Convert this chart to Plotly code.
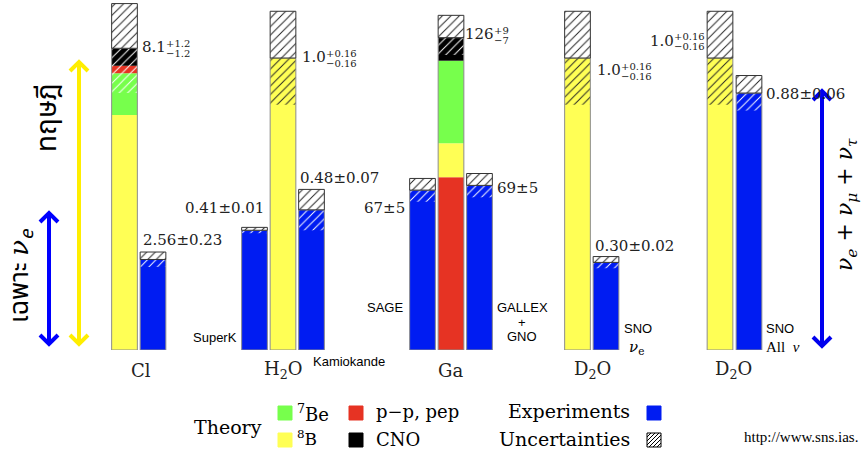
import plotly.graph_objects as go

# ---------------- data ----------------
# Chlorine (SNU); stacking bottom -> top: 8B, 7Be, p-p/pep, CNO
cl_theory = [6.31, 1.12, 0.20, 0.47]
cl_theory_err = [1.2, 1.2]          # (+, -)
cl_exp = [2.43]                      # Homestake (drawn height)
cl_exp_err = [0.20]

# Gallium (SNU); stacking bottom -> top: p-p/pep, 8B, 7Be, CNO
ga_theory = [69.7, 13.7, 33.3, 9.3]
ga_theory_err = [9, 7]
ga_exp = [64.5, 66.4]                # SAGE, GALLEX+GNO (drawn heights)
ga_exp_err = [4.7, 4.8]

# Water Cherenkov (ratio to SSM)
h2o_theory = [1.0]
h2o_theory_err = [0.16, 0.16]
h2o_exp = [0.41, 0.48]               # SuperK, Kamiokande
h2o_exp_err = [0.01, 0.07]

# Heavy water (ratio to SSM)
d2o_theory = [1.0]
d2o_theory_err = [0.16, 0.16]
d2o_exp = [0.30, 0.88]               # SNO nu_e, SNO all nu
d2o_exp_err = [0.02, 0.06]

group_labels = ["Cl", "H<sub>2</sub>O", "Ga", "D<sub>2</sub>O", "D<sub>2</sub>O"]
exp_names = ["SuperK", "Kamiokande", "SAGE", "SNO"]

# ---------------- styling / layout ----------------
W, H = 863, 450
PH = 350                      # plot-area height in px
BW = 25.7
C_8B, C_7BE, C_PP, C_CNO = "#ffff55", "#77ff4c", "#e63323", "#000000"
C_EXP = "#001cf2"
OUTLINE = "#8c8c8c"

fig = go.Figure()


def add_column(xc, values, colors, axis, err_up, err_dn, dn_color="white"):
    base = 0.0
    for v, c in zip(values, colors):
        fig.add_bar(x=[xc], y=[v], base=[base], width=BW, yaxis=axis,
                    marker=dict(color=c, line=dict(width=0)), hoverinfo="skip")
        base += v
    total = base
    # lower uncertainty hatch (over colour)
    fig.add_bar(x=[xc], y=[err_dn], base=[total - err_dn], width=BW, yaxis=axis,
                marker=dict(color="rgba(0,0,0,0)", line=dict(width=0),
                            pattern=dict(shape="/", fgcolor=dn_color, bgcolor="rgba(0,0,0,0)",
                                         size=6, solidity=0.16, fillmode="replace")),
                hoverinfo="skip")
    # outline of column
    fig.add_bar(x=[xc], y=[total], base=[0], width=BW, yaxis=axis,
                marker=dict(color="rgba(0,0,0,0)", line=dict(width=1, color=OUTLINE)),
                hoverinfo="skip")
    # upper uncertainty box
    fig.add_bar(x=[xc], y=[err_up], base=[total], width=BW, yaxis=axis,
                marker=dict(color="white", line=dict(width=1, color="#333333"),
                            pattern=dict(shape="/", fgcolor="#222222", bgcolor="white",
                                         size=6, solidity=0.16, fillmode="replace")),
                hoverinfo="skip")


# x centres (px-equivalent units on the x axis)
X = dict(cl_th=124.5, cl_exp=153, sk=254.5, h2o_th=283, kam=311.5,
         sage=422.5, ga_th=451, gallex=479.5, d1_th=577.5, sno_e=606,
         d2_th=720, sno_all=749)

add_column(X["cl_th"], cl_theory, [C_8B, C_7BE, C_PP, C_CNO], "y2", *cl_theory_err)
add_column(X["cl_exp"], cl_exp, [C_EXP], "y2", cl_exp_err[0], cl_exp_err[0])

add_column(X["sk"], [h2o_exp[0]], [C_EXP], "y", h2o_exp_err[0], h2o_exp_err[0])
add_column(X["h2o_th"], h2o_theory, [C_8B], "y", *h2o_theory_err, dn_color="#222222")
add_column(X["kam"], [h2o_exp[1]], [C_EXP], "y", h2o_exp_err[1], h2o_exp_err[1])

add_column(X["sage"], [ga_exp[0]], [C_EXP], "y3", ga_exp_err[0], ga_exp_err[0])
add_column(X["ga_th"], ga_theory, [C_PP, C_8B, C_7BE, C_CNO], "y3", *ga_theory_err)
add_column(X["gallex"], [ga_exp[1]], [C_EXP], "y3", ga_exp_err[1], ga_exp_err[1])

add_column(X["d1_th"], d2o_theory, [C_8B], "y", *d2o_theory_err, dn_color="#222222")
add_column(X["sno_e"], [d2o_exp[0]], [C_EXP], "y", d2o_exp_err[0], d2o_exp_err[0])
add_column(X["d2_th"], d2o_theory, [C_8B], "y", *d2o_theory_err, dn_color="#222222")
add_column(X["sno_all"], [d2o_exp[1]], [C_EXP], "y", d2o_exp_err[1], d2o_exp_err[1])


def py(p):
    return (PH - p) / PH


ann = []


def text(x, y, t, size=15, family="DejaVu Serif", anchor="left", color="#222222", angle=0):
    ann.append(dict(x=x, y=py(y), xref="x", yref="paper", text=t, showarrow=False,
                    xanchor=anchor, yanchor="middle", textangle=angle, borderpad=0,
                    font=dict(size=size, family=family, color=color)))


def pm(xsplit, y, main, up, dn, size=15, small=10):
    text(xsplit, y, main, size=size, anchor="right")
    text(xsplit - 2, y - 4, up, size=small, anchor="left")
    text(xsplit - 2, y + 6, dn, size=small, anchor="left")


SERIF = "DejaVu Serif"
SANS = "Liberation Sans, Arial, sans-serif"
LEG = "DejaVu Serif, serif"

# value labels
pm(167, 47, "8.1", "+%.1f" % cl_theory_err[0], "\u2212%.1f" % cl_theory_err[1])
text(142, 240, "2.56\u00b10.23")
text(265, 207.5, "0.41\u00b10.01", anchor="right")
pm(327, 57, "1.0", "+0.16", "\u22120.16")
text(299, 178, "0.48\u00b10.07")
text(406, 207.5, "67\u00b15", anchor="right")
pm(495, 34.5, "126", "+9", "\u22127")
text(495.5, 187.5, "69\u00b15")
pm(622, 70.5, "1.0", "+0.16", "\u22120.16")
text(594, 246, "0.30\u00b10.02")
pm(675, 40.5, "1.0", "+0.16", "\u22120.16")
text(765, 94, "0.88\u00b10.06")

# experiment names
text(238, 337.5, exp_names[0], size=13, family=SANS, anchor="right", color="black")
text(312, 361.5, exp_names[1], size=13, family=SANS, color="black")
text(404, 307.5, exp_names[2], size=13, family=SANS, anchor="right", color="black")
text(522, 307.5, "GALLEX", size=13, family=SANS, anchor="center", color="black")
text(522, 322, "+", size=13, family=SANS, anchor="center", color="black")
text(522, 336.5, "GNO", size=13, family=SANS, anchor="center", color="black")
text(622.5, 328.5, exp_names[3], size=13, family=SANS, color="black")
text(628, 347, "<i>\u03bd</i><sub>e</sub>", size=15, family=SERIF, color="black")
text(765, 328.5, exp_names[3], size=13, family=SANS, color="black")
text(765, 347, "All  <i>\u03bd</i>", size=15, family="Liberation Serif", color="black")

# group labels
for gx, gl in zip([141, 283, 450, 592.5, 733], group_labels):
    text(gx, 370, gl, size=18, family=SERIF, anchor="center")

# side texts
text(47, 118, "\u0e17\u0e24\u0e29\u0e0e\u0e35", size=28, family="Noto Sans Thai, Loma, Garuda, Noto Sans, sans-serif",
     anchor="center", color="black", angle=-90)
text(20, 276, "\u0e40\u0e09\u0e1e\u0e32\u0e30 <i>\u03bd<sub>e</sub></i>", size=26,
     family="Noto Sans Thai, Loma, Garuda, DejaVu Serif, serif", anchor="center", color="black", angle=-90)
text(847, 205, "<i>\u03bd<sub>e</sub></i> + <i>\u03bd<sub>\u03bc</sub></i> + <i>\u03bd<sub>\u03c4</sub></i>",
     size=22, family=SERIF, anchor="center", color="black", angle=-90)

# legend texts
text(228, 427, "Theory", size=19, family=LEG, anchor="center", color="black")
text(295.5, 413, "<sup>7</sup>Be", size=18, family=LEG, color="black")
text(295.5, 438, "<sup>8</sup>B", size=17, family=LEG, color="black")
text(375, 411, "p\u2212p, pep", size=18, family=LEG, color="black")
text(375, 439, "CNO", size=18, family=LEG, color="black")
text(631, 411, "Experiments", size=19, family=LEG, anchor="right", color="black")
text(631, 439, "Uncertainties", size=19, family=LEG, anchor="right", color="black")
text(743, 437, "http://www.sns.ias.", size=15, family="Liberation Serif, Times New Roman, serif", color="black")

shapes = []


def arrow(x, y0, y1, color, lw=4, hw=9, hl=9):
    shapes.append(dict(type="line", xref="x", yref="paper", x0=x, x1=x, y0=py(y0), y1=py(y1),
                       line=dict(color=color, width=lw)))
    for yt, d in ((y0, 1), (y1, -1)):
        path = "M %f,%f L %f,%f L %f,%f" % (x - hw, py(yt + d * hl), x, py(yt), x + hw, py(yt + d * hl))
        shapes.append(dict(type="path", xref="x", yref="paper", path=path,
                           line=dict(color=color, width=lw)))


arrow(79, 62, 344, "#ffee00")
arrow(49, 213, 344, "#0000ff")
arrow(822, 91, 346, "#0000ee")


def square(x0, y0, color, hatch=False, s=14):
    shapes.append(dict(type="rect", xref="x", yref="paper", x0=x0, x1=x0 + s,
                       y0=py(y0 + s), y1=py(y0), fillcolor=color,
                       line=dict(color="black" if hatch else color, width=1)))
    if hatch:
        step = 4
        c = step
        while c < 2 * s:
            xa, ya = max(0, c - s), min(c, s)
            xb, yb = min(c, s), max(0, c - s)
            shapes.append(dict(type="line", xref="x", yref="paper",
                               x0=x0 + xa, y0=py(y0 + ya), x1=x0 + xb, y1=py(y0 + yb),
                               line=dict(color="black", width=1)))
            c += step


square(278, 406, C_7BE)
square(349, 406, C_PP)
square(647, 406, C_EXP)
square(278, 433, C_8B)
square(349, 433, C_CNO)
square(647, 433, "white", hatch=True)

fig.update_layout(
    width=W, height=H, margin=dict(l=0, r=0, t=0, b=H - PH, pad=0),
    barmode="overlay", showlegend=False,
    plot_bgcolor="white", paper_bgcolor="white",
    xaxis=dict(range=[0, W], visible=False, fixedrange=True),
    yaxis=dict(range=[0, PH / 292.0], visible=False),
    yaxis2=dict(range=[0, PH / 37.25], visible=False, overlaying="y"),
    yaxis3=dict(range=[0, PH / 2.479], visible=False, overlaying="y"),
    annotations=ann, shapes=shapes,
)

fig.write_html("out.html", config={"displayModeBar": False},
               post_script="document.body.style.margin='0';document.body.style.overflow='hidden';")
